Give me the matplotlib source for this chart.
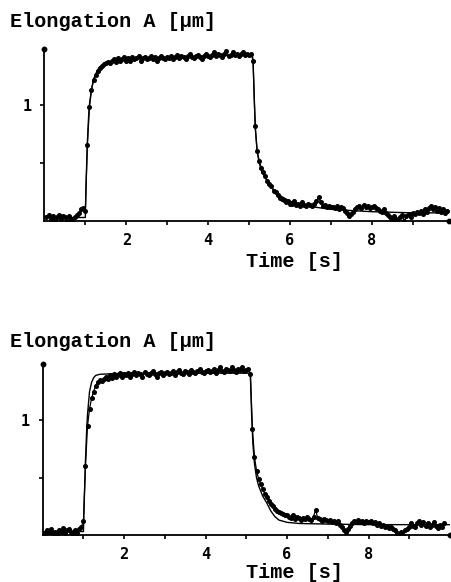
import numpy as np
import matplotlib
matplotlib.use('Agg')
import matplotlib.pyplot as plt

# ---- data ----
time_s = np.round(np.arange(1, 198) * 0.05, 2)   # sample times 0.05 ... 9.85 s

top_data = [
    0.03, 0.05, 0.02, 0.04, 0.01, 0.03, 0.05, 0.02, 0.04, 0.03, 0.00, 0.04, 0.02, -0.01, 0.03, 0.05, 0.07, 0.10, 0.11, 0.09,
    0.65, 0.98, 1.13, 1.21, 1.26, 1.29, 1.32, 1.33, 1.35, 1.36, 1.37, 1.36, 1.38, 1.39, 1.37, 1.40, 1.38, 1.39, 1.41, 1.38,
    1.40, 1.38, 1.41, 1.39, 1.40, 1.42, 1.38, 1.40, 1.41, 1.39, 1.40, 1.42, 1.39, 1.41, 1.38, 1.40, 1.42, 1.40, 1.39, 1.41,
    1.40, 1.42, 1.39, 1.41, 1.43, 1.40, 1.42, 1.41, 1.39, 1.42, 1.44, 1.41, 1.40, 1.42, 1.43, 1.41, 1.39, 1.42, 1.44, 1.42,
    1.41, 1.43, 1.45, 1.42, 1.44, 1.43, 1.41, 1.44, 1.46, 1.42, 1.43, 1.45, 1.43, 1.44, 1.42, 1.44, 1.45, 1.43, 1.44, 1.43,
    1.44, 1.38, 0.82, 0.60, 0.52, 0.46, 0.42, 0.39, 0.34, 0.32, 0.30, 0.26, 0.25, 0.22, 0.20, 0.19, 0.18, 0.16, 0.17, 0.15,
    0.15, 0.17, 0.14, 0.15, 0.13, 0.16, 0.14, 0.13, 0.15, 0.14, 0.13, 0.15, 0.17, 0.21, 0.16, 0.13, 0.14, 0.12, 0.13, 0.12,
    0.12, 0.11, 0.13, 0.10, 0.12, 0.11, 0.09, 0.07, 0.04, 0.06, 0.08, 0.10, 0.12, 0.13, 0.11, 0.14, 0.12, 0.13, 0.11, 0.12,
    0.13, 0.11, 0.10, 0.09, 0.08, 0.10, 0.07, 0.05, 0.03, 0.01, 0.04, 0.02, -0.02, 0.03, 0.05, 0.00, 0.04, 0.06, 0.03, 0.07,
    0.06, 0.08, 0.07, 0.09, 0.06, 0.10, 0.08, 0.11, 0.13, 0.10, 0.12, 0.09, 0.11, 0.08, 0.10, 0.07, 0.09,
]

bottom_data = [
    0.02, 0.04, 0.03, 0.05, 0.02, 0.03, 0.01, 0.04, 0.03, 0.06, 0.02, 0.04, 0.05, 0.03, 0.01, 0.04, 0.02, 0.05, 0.07, 0.12,
    0.60, 0.95, 1.10, 1.19, 1.25, 1.30, 1.33, 1.35, 1.34, 1.36, 1.38, 1.36, 1.39, 1.37, 1.40, 1.38, 1.39, 1.41, 1.38, 1.40,
    1.39, 1.41, 1.38, 1.40, 1.42, 1.39, 1.41, 1.40, 1.38, 1.42, 1.40, 1.39, 1.41, 1.43, 1.40, 1.38, 1.41, 1.42, 1.39, 1.41,
    1.42, 1.40, 1.41, 1.43, 1.39, 1.42, 1.44, 1.41, 1.40, 1.43, 1.42, 1.40, 1.44, 1.42, 1.41, 1.43, 1.45, 1.42, 1.41, 1.43,
    1.44, 1.42, 1.43, 1.45, 1.41, 1.44, 1.46, 1.43, 1.42, 1.45, 1.44, 1.43, 1.46, 1.44, 1.42, 1.45, 1.44, 1.46, 1.43, 1.44,
    1.45, 1.40, 0.92, 0.68, 0.56, 0.49, 0.44, 0.40, 0.36, 0.33, 0.30, 0.27, 0.25, 0.23, 0.21, 0.20, 0.19, 0.18, 0.17, 0.17,
    0.16, 0.15, 0.17, 0.14, 0.16, 0.15, 0.13, 0.15, 0.14, 0.16, 0.14, 0.13, 0.16, 0.22, 0.15, 0.14, 0.12, 0.14, 0.13, 0.12,
    0.13, 0.11, 0.12, 0.10, 0.12, 0.09, 0.07, 0.04, 0.03, 0.05, 0.08, 0.10, 0.12, 0.11, 0.13, 0.11, 0.12, 0.10, 0.12, 0.11,
    0.12, 0.10, 0.11, 0.09, 0.10, 0.08, 0.09, 0.07, 0.08, 0.06, 0.07, 0.05, 0.04, 0.02, -0.02, 0.03, 0.00, 0.04, 0.05, 0.07,
    0.10, 0.08, 0.07, 0.10, 0.12, 0.09, 0.11, 0.08, 0.10, 0.07, 0.09, 0.11, 0.08, 0.06, 0.09, 0.07, 0.10,
]

top_fit_t = [0.0, 1.0, 1.02, 1.05, 1.08, 1.10, 1.15, 1.20, 1.30, 1.40, 1.50, 1.70, 2.00, 3.00, 4.00,
             5.08, 5.10, 5.13, 5.16, 5.20, 5.25, 5.30, 5.40, 5.50, 5.60, 5.80, 6.00, 6.30, 6.60, 7.00,
             7.50, 8.00, 9.00, 9.90]
top_fit_y = [0.03, 0.03, 0.35, 0.68, 0.90, 1.00, 1.13, 1.22, 1.30, 1.34, 1.36, 1.38, 1.39, 1.41, 1.42,
             1.43, 1.38, 1.05, 0.78, 0.60, 0.50, 0.44, 0.37, 0.31, 0.27, 0.21, 0.17, 0.14, 0.12, 0.10,
             0.09, 0.08, 0.07, 0.07]

bottom_fit_t = [0.0, 1.0, 1.02, 1.05, 1.08, 1.10, 1.15, 1.20, 1.25, 1.30, 1.40, 2.00, 3.00, 4.00, 5.08,
                5.10, 5.13, 5.16, 5.20, 5.25, 5.30, 5.40, 5.50, 5.60, 5.70, 5.80, 6.00, 6.30, 7.00, 8.00,
                10.0]
bottom_fit_y = [0.03, 0.03, 0.30, 0.65, 0.92, 1.05, 1.25, 1.33, 1.37, 1.39, 1.40, 1.41, 1.41, 1.41, 1.41,
                1.38, 1.05, 0.80, 0.62, 0.50, 0.43, 0.34, 0.28, 0.21, 0.16, 0.13, 0.11, 0.10, 0.095, 0.09,
                0.09]

x_ticks = [1, 2, 3, 4, 5, 6, 7, 8, 9]
x_tick_labels = ['', '2', '', '4', '', '6', '', '8', '']
y_ticks = [0.5, 1.0]
y_tick_labels = ['', '1']
y_title = 'Elongation A [µm]'
x_title = 'Time [s]'

TITLE_FONT = 'Liberation Mono'
TICK_FONT = 'DejaVu Sans Mono'

fig = plt.figure(figsize=(4.51, 5.82), dpi=100)


def panel(rect, xmax, ymax, data, fit_t, fit_y, title_y, xlabel_y):
    ax = fig.add_axes(rect)
    ax.plot(fit_t, fit_y, color='black', lw=1.0, zorder=2)
    ax.plot(time_s, data, color='black', lw=0.9, marker='o', ms=2.6,
            mec='black', mfc='black', zorder=3)
    ax.set_xlim(0, xmax)
    ax.set_ylim(0, ymax)
    for s in ('top', 'right'):
        ax.spines[s].set_visible(False)
    for s in ('left', 'bottom'):
        ax.spines[s].set_linewidth(1.3)
    ax.set_xticks(x_ticks)
    ax.set_xticklabels(x_tick_labels)
    ax.set_yticks(y_ticks)
    ax.set_yticklabels(y_tick_labels)
    ax.tick_params(direction='out', length=3, width=1.2, pad=6)
    for lab in ax.get_xticklabels() + ax.get_yticklabels():
        lab.set_fontfamily(TICK_FONT)
        lab.set_fontweight('bold')
        lab.set_fontsize(11)
    # end dots on the axes
    ax.plot([0], [ymax], 'o', color='black', ms=3.2, clip_on=False, zorder=5)
    ax.plot([xmax], [0], 'o', color='black', ms=3.2, clip_on=False, zorder=5)
    fig.text(0.022, title_y, y_title, family=TITLE_FONT, weight='bold', fontsize=14.5,
             ha='left', va='center')
    fig.text(0.654, xlabel_y, x_title, family=TITLE_FONT, weight='bold', fontsize=14.5,
             ha='center', va='center')
    return ax


panel([0.0985, 0.6203, 0.898, 0.2955], 9.9, 1.48, top_data, top_fit_t, top_fit_y, 0.963, 0.551)
panel([0.0947, 0.0808, 0.903, 0.2938], 10.0, 1.49, bottom_data, bottom_fit_t, bottom_fit_y, 0.413, 0.017)

fig.savefig('out.png', dpi=100)
